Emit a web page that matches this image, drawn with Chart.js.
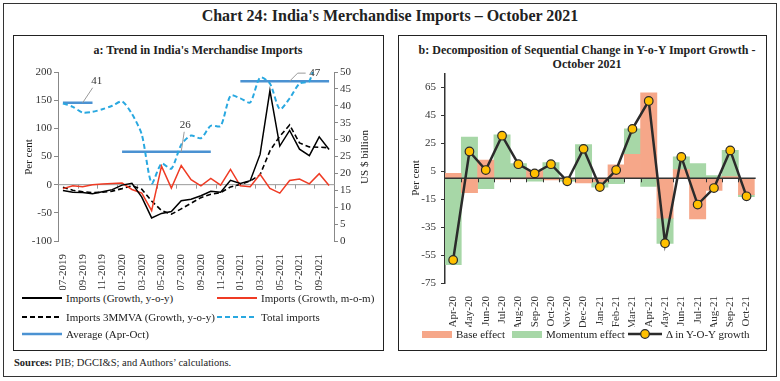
<!DOCTYPE html>
<html>
<head>
<meta charset="utf-8">
<script src="https://cdn.jsdelivr.net/npm/chart.js@4.4.0/dist/chart.umd.min.js"></script>
<style>
  body { margin: 0; width: 780px; height: 381px; background: #fff; position: relative; overflow: hidden;
         font-family: "Liberation Serif", "DejaVu Serif", serif; color: #222; }
  .box { position: absolute; border: 1px solid #333; }
  #outer { left: 3px; top: 3px; width: 772px; height: 372px; }
  #boxA { left: 13px; top: 35px; width: 369px; height: 314px; border: 1.5px solid #222; }
  #boxB { left: 398px; top: 35px; width: 367px; height: 314px; border: 1.5px solid #222; }
  #title { position: absolute; left: 0; top: 7px; width: 780px; text-align: center; font-size: 16px; font-weight: bold; }
  .ptitle { position: absolute; text-align: center; font-size: 12px; font-weight: bold; line-height: 14px; }
  canvas { position: absolute; }
  .rot { position: absolute; font-size: 11px; white-space: nowrap; transform: translate(-50%, -50%) rotate(-90deg); }
  .leg { position: absolute; display: flex; align-items: center; font-size: 11px; white-space: nowrap; height: 14px; }
  .leg svg { margin-right: 4px; }
  #src { position: absolute; left: 14px; top: 357px; font-size: 10.5px; }
</style>
</head>
<body>
<div id="outer" class="box"></div>
<div id="title">Chart 24: India's Merchandise Imports – October 2021</div>
<div id="boxA" class="box"></div>
<div id="boxB" class="box"></div>

<div class="ptitle" style="left:14px;top:43px;width:368px">a: Trend in India's Merchandise Imports</div>
<div class="ptitle" style="left:399px;top:43px;width:376px">b: Decomposition of Sequential Change in Y-o-Y Import Growth -<br>October 2021</div>

<canvas id="chartA" width="368" height="228" style="left:14px;top:62px"></canvas>
<canvas id="chartB" width="366" height="265" style="left:399px;top:62px"></canvas>

<div class="rot" style="left:28px;top:157px">Per cent</div>
<div class="rot" style="left:364px;top:157px">US $ billion</div>
<div class="rot" style="left:415px;top:178px">Per cent</div>

<div class="leg" style="left:22px;top:291px"><svg width="40" height="6"><line x1="0" y1="3" x2="40" y2="3" stroke="#000" stroke-width="2"/></svg>Imports (Growth, y-o-y)</div>
<div class="leg" style="left:217px;top:291px"><svg width="40" height="6"><line x1="0" y1="3" x2="40" y2="3" stroke="#ef3b24" stroke-width="2"/></svg>Imports (Growth, m-o-m)</div>
<div class="leg" style="left:22px;top:310px"><svg width="40" height="6"><line x1="0" y1="3" x2="40" y2="3" stroke="#000" stroke-width="2" stroke-dasharray="5,3"/></svg>Imports 3MMVA (Growth, y-o-y)</div>
<div class="leg" style="left:217px;top:310px"><svg width="40" height="6"><line x1="0" y1="3" x2="40" y2="3" stroke="#29a8e0" stroke-width="2" stroke-dasharray="5,3"/></svg>Total imports</div>
<div class="leg" style="left:22px;top:327px"><svg width="40" height="6"><line x1="0" y1="3" x2="40" y2="3" stroke="#4b92d2" stroke-width="2.5"/></svg>Average (Apr-Oct)</div>

<div class="leg" style="left:422px;top:327px"><svg width="30" height="7"><rect x="0" y="0" width="30" height="7" fill="#f6a789"/></svg>Base effect</div>
<div class="leg" style="left:512px;top:327px"><svg width="30" height="7"><rect x="0" y="0" width="30" height="7" fill="#a7d7a7"/></svg>Momentum effect</div>
<div class="leg" style="left:628px;top:327px"><svg width="34" height="12"><line x1="0" y1="6" x2="34" y2="6" stroke="#2b2b2b" stroke-width="2.5"/><circle cx="17" cy="6" r="4.3" fill="#ffc000" stroke="#2b2b2b" stroke-width="1.2"/></svg>Δ in Y-O-Y growth</div>

<div id="src"><b>Sources:</b> PIB; DGCI&amp;S; and Authors’ calculations.</div>

<script>
const FONT = '"Liberation Serif", "DejaVu Serif", serif';

// a: trend in merchandise imports
const MONTHS = ['07-2019', '08-2019', '09-2019', '10-2019', '11-2019', '12-2019', '01-2020', '02-2020',
  '03-2020', '04-2020', '05-2020', '06-2020', '07-2020', '08-2020', '09-2020', '10-2020', '11-2020',
  '12-2020', '01-2021', '02-2021', '03-2021', '04-2021', '05-2021', '06-2021', '07-2021', '08-2021',
  '09-2021', '10-2021'];
const YOY_GROWTH = [-10.4, -13.5, -13.9, -16.3, -12.7, -8.8, -0.8, 2.5, -22, -59, -51, -47.6, -28.4,
  -26, -19.6, -11.6, -13.3, 7.6, 2, 7, 53.7, 167, 68.5, 96.3, 63, 51.5, 84.8, 62.5];
const MOM_GROWTH = [-7, -2, -3.5, 0, 1, 2, 3, -8.5, -15, -46, 33, -6, 34, 9, -2, 11, -1, 27, -2,
  -3.5, 18.5, -6.5, -15, 7.5, 10, 1.5, 19.5, -1.5];
const MMVA3_GROWTH = [-4.5, -10, -12.5, -14, -13.5, -11.5, -7, -2, -8, -29, -46, -52.5, -43, -33,
  -23, -17, -14, -4, 0.5, 6.5, 17.5, 60, 86, 106, 74, 67, 66.5, 65.5];
const TOTAL_IMPORTS = [40.7, 39.7, 38.0, 38.2, 39.0, 40.0, 41.3, 37.6, 31.5, 17.1, 22.9, 21.4, 28.5,
  31.2, 30.4, 34.1, 34.0, 43.0, 42.2, 41.0, 48.4, 46.6, 39.0, 42.2, 46.6, 47.3, 56.4, 55.4];
const AVG_LEVELS = [40.9, 26.4, 47.3];
const AVG_LABELS = ['41', '26', '47'];
const AVG_FROM = [0, 6, 18];
const AVG_TO = [3, 15, 27];
const PCT_TICKS = [-100, -50, 0, 50, 100, 150, 200];
const BN_TICKS = [0, 5, 10, 15, 20, 25, 30, 35, 40, 45, 50];

// b: decomposition
const DECOMP_MONTHS = ['Apr-20', 'May-20', 'Jun-20', 'Jul-20', 'Aug-20', 'Sep-20', 'Oct-20', 'Nov-20',
  'Dec-20', 'Jan-21', 'Feb-21', 'Mar-21', 'Apr-21', 'May-21', 'Jun-21', 'Jul-21', 'Aug-21', 'Sep-21', 'Oct-21'];
const BASE_EFFECT = [3.5, -10.3, 13.1, -0.7, -0.4, 5.5, -1.2, -0.8, -3.3, -2.6, 9.6, 17.1, 61.3, -28.6,
  6.3, -29.1, -8.7, 1.2, -11.7];
const MOMENTUM_EFFECT = [-61.8, 29.6, -7.5, 31.2, 10.5, -2.0, 11.3, -1.3, 24.2, -3.8, -3.9, 18.3, -5.9,
  -18.1, 9.0, 10.5, 1.9, 18.9, -1.4];
const YOY_CHANGE = [-58.5, 19.2, 5.9, 30.5, 10.1, 3.5, 10.1, -2.1, 21.1, -6.3, 5.9, 35.4, 55.4, -46.5,
  15.3, -18.8, -7.0, 20.0, -12.9];
const DECOMP_TICKS = [-75, -55, -35, -15, 5, 25, 45, 65];

// zero line with small category ticks, drawn just before one dataset
const zeroAxis = {
  id: 'zeroAxis',
  beforeDatasetDraw(chart, args, opts) {
    if (args.index !== opts.datasetIndex) return;
    const { ctx, chartArea } = chart;
    const xs = chart.scales.x;
    const y0 = chart.scales[opts.axis].getPixelForValue(0);
    ctx.save();
    ctx.strokeStyle = opts.color;
    ctx.lineWidth = opts.width;
    ctx.beginPath();
    ctx.moveTo(chartArea.left, y0);
    ctx.lineTo(chartArea.right + 1, y0);
    ctx.stroke();
    ctx.lineWidth = 1;
    const n = chart.data.labels.length;
    for (let i = opts.start; i < n - 1; i += opts.step) {
      const px = Math.round((xs.getPixelForValue(i) + xs.getPixelForValue(i + 1)) / 2) + 0.5;
      ctx.beginPath();
      ctx.moveTo(px, y0);
      ctx.lineTo(px, y0 + 4);
      ctx.stroke();
    }
    ctx.restore();
  }
};

// value labels for the average lines
const CALLOUTS = [
  { at: 2, lx: 10, ly: -15, tx: 14, ty: -22 },
  { at: 12, lx: 3, ly: -20, tx: 4, ty: -27 },
  { at: 23, lx: 8, ly: -8, hx: 16, tx: 25, ty: -8 }
];
const callouts = {
  id: 'callouts',
  afterDatasetsDraw(chart) {
    const { ctx } = chart;
    ctx.save();
    ctx.strokeStyle = '#9a9a9a';
    ctx.lineWidth = 1;
    ctx.fillStyle = '#333';
    ctx.font = '11px ' + FONT;
    ctx.textAlign = 'center';
    ctx.textBaseline = 'middle';
    CALLOUTS.forEach((c, k) => {
      const ax = chart.scales.x.getPixelForValue(c.at);
      const ay = chart.scales.yR.getPixelForValue(AVG_LEVELS[k]);
      ctx.beginPath();
      ctx.moveTo(ax, ay);
      ctx.lineTo(ax + c.lx, ay + c.ly);
      if (c.hx) ctx.lineTo(ax + c.hx, ay + c.ly);
      ctx.stroke();
      ctx.fillText(AVG_LABELS[k], ax + c.tx, ay + c.ty);
    });
    ctx.restore();
  }
};

function line(label, data, color, width, dash, axis, tension) {
  return { type: 'line', label, data, borderColor: color, backgroundColor: color, borderWidth: width,
           borderDash: dash, pointRadius: 0, yAxisID: axis, tension: tension || 0 };
}

const avgSets = AVG_LEVELS.map((lvl, k) =>
  line('Average (Apr-Oct)', MONTHS.map((m, i) => (i >= AVG_FROM[k] && i <= AVG_TO[k]) ? lvl : null),
       '#4b92d2', 2.5, [], 'yR'));

const tickFont = { family: FONT, size: 11 };

function valueAxis(pos, min, max, list, width) {
  return {
    position: pos, min, max,
    afterBuildTicks: s => { s.ticks = list.map(v => ({ value: v })); },
    afterFit: s => { s.width = width; },
    grid: { drawOnChartArea: false, tickLength: 4, color: '#888' },
    border: { color: '#888' },
    ticks: { padding: 2, color: '#333', font: tickFont }
  };
}

new Chart(document.getElementById('chartA'), {
  type: 'line',
  data: {
    labels: MONTHS,
    datasets: [
      line('Imports (Growth, y-o-y)', YOY_GROWTH, '#000', 1.5, [], 'yL'),
      line('Imports (Growth, m-o-m)', MOM_GROWTH, '#ef3b24', 1.5, [], 'yL'),
      line('Imports 3MMVA (Growth, y-o-y)', MMVA3_GROWTH, '#000', 1.6, [5, 3], 'yL'),
      line('Total imports', TOTAL_IMPORTS, '#29a8e0', 2, [5, 3], 'yR', 0.25),
      ...avgSets
    ]
  },
  options: {
    responsive: false, animation: false, devicePixelRatio: 1,
    layout: { padding: { top: 10, left: 0, right: 0, bottom: 0 } },
    plugins: {
      legend: { display: false }, tooltip: { enabled: false },
      zeroAxis: { datasetIndex: 6, axis: 'yL', color: '#999', width: 1, start: 1, step: 2 }
    },
    scales: {
      x: {
        offset: true,
        grid: { display: false }, border: { display: false },
        afterFit: s => { s.height = 49; },
        ticks: { autoSkip: false, minRotation: 90, maxRotation: 90, padding: 5, color: '#333', font: tickFont,
                 callback: (v, i) => i % 2 === 0 ? MONTHS[i] : '' }
      },
      yL: valueAxis('left', -100, 200, PCT_TICKS, 44),
      yR: valueAxis('right', 0, 50, BN_TICKS, 48)
    }
  },
  plugins: [zeroAxis, callouts]
});

const decompY = valueAxis('left', -75, 75, DECOMP_TICKS, 46);
decompY.stacked = true;
decompY.grid.color = '#333';
decompY.border = { color: '#333', width: 1.5 };
decompY.ticks.padding = 5;

new Chart(document.getElementById('chartB'), {
  type: 'bar',
  data: {
    labels: DECOMP_MONTHS,
    datasets: [
      { type: 'line', label: 'Δ in Y-O-Y growth', data: YOY_CHANGE, borderColor: '#2b2b2b', borderWidth: 2.5,
        pointRadius: 4.3, pointBackgroundColor: '#ffc000', pointBorderColor: '#2b2b2b', pointBorderWidth: 1.2,
        order: 0, stack: 'delta', tension: 0 },
      { label: 'Base effect', data: BASE_EFFECT, backgroundColor: '#f6a789', order: 1, stack: 'eff',
        barPercentage: 1, categoryPercentage: 1 },
      { label: 'Momentum effect', data: MOMENTUM_EFFECT, backgroundColor: '#a7d7a7', order: 1, stack: 'eff',
        barPercentage: 1, categoryPercentage: 1 }
    ]
  },
  options: {
    responsive: false, animation: false, devicePixelRatio: 1,
    layout: { padding: { top: 8, left: 0, right: 10, bottom: 0 } },
    plugins: {
      legend: { display: false }, tooltip: { enabled: false },
      zeroAxis: { datasetIndex: 0, axis: 'y', color: '#333', width: 1.5, start: 0, step: 1 }
    },
    scales: {
      x: {
        stacked: true,
        grid: { display: false }, border: { display: false },
        afterFit: s => { s.height = 44; },
        ticks: { autoSkip: false, minRotation: 90, maxRotation: 90, padding: 5, color: '#333', font: tickFont }
      },
      y: decompY
    }
  },
  plugins: [zeroAxis]
});
</script>
</body>
</html>
